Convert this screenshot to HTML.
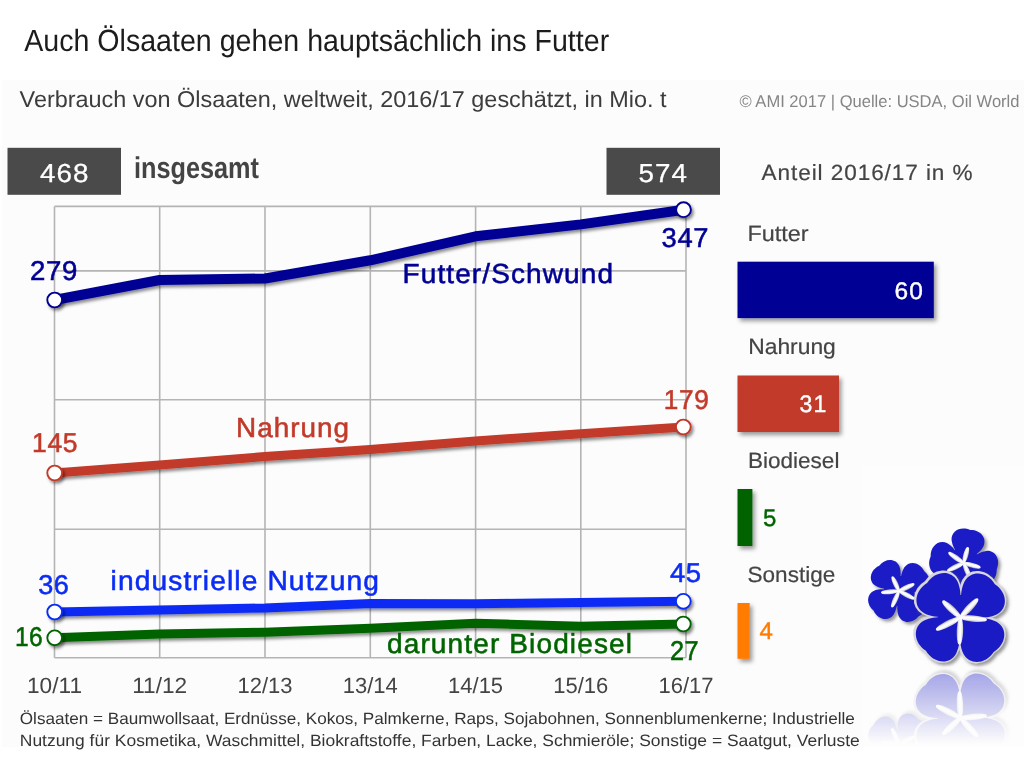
<!DOCTYPE html>
<html><head><meta charset="utf-8"><title>Auch Ölsaaten gehen hauptsächlich ins Futter</title>
<style>
html,body{margin:0;padding:0;background:#fff;}
body{width:1024px;height:778px;overflow:hidden;font-family:"Liberation Sans",sans-serif;}
svg{display:block;font-family:"Liberation Sans",sans-serif;}
text{text-rendering:geometricPrecision;}
</style></head><body>
<svg width="1024" height="778" viewBox="0 0 1024 778" style="opacity:0.999">
<defs>
  <filter id="sh" x="-5%" y="-50%" width="110%" height="200%"><feDropShadow dx="2" dy="2.5" stdDeviation="1.6" flood-color="#000" flood-opacity="0.45"/></filter>
  <filter id="shb" x="-10%" y="-20%" width="130%" height="150%"><feDropShadow dx="2.5" dy="3" stdDeviation="2" flood-color="#000" flood-opacity="0.4"/></filter>
  <filter id="shf" x="-20%" y="-20%" width="150%" height="150%"><feDropShadow dx="2.5" dy="2.5" stdDeviation="1.8" flood-color="#555" flood-opacity="0.6"/></filter>
  <linearGradient id="fade" x1="0" y1="0" x2="0" y2="1"><stop offset="0" stop-color="#fff" stop-opacity="0.42"/><stop offset="1" stop-color="#fff" stop-opacity="0"/></linearGradient>
  <mask id="rm" maskUnits="userSpaceOnUse" x="850" y="668" width="174" height="80"><rect x="850" y="668" width="174" height="76" fill="url(#fade)"/></mask>

  <linearGradient id="ray" x1="0" y1="0" x2="1" y2="0"><stop offset="0" stop-color="#c4c4cf"/><stop offset="0.35" stop-color="#ffffff"/><stop offset="0.7" stop-color="#f4f4f7"/><stop offset="1" stop-color="#a6a6b6"/></linearGradient>
  <path id="petal" d="M0,3 C-3,-7 -19.5,-15 -24.5,-30 C-28.5,-44 -15,-54.5 0,-51 C15,-54.5 28.5,-44 24.5,-30 C19.5,-15 3,-7 0,3Z"/>
  <path id="rayp" d="M0,2.5 C-3.3,-3 -3.5,-17 -1.7,-24.5 C-0.9,-27.3 0.9,-27.3 1.7,-24.5 C3.5,-17 3.3,-3 0,2.5Z"/>
  <g id="flowerBody">
    <use href="#petal" transform="rotate(-44)"/>
    <use href="#petal" transform="rotate(46)"/>
    <use href="#petal" transform="rotate(136)"/>
    <use href="#petal" transform="rotate(-134)"/>
    <circle cx="0" cy="0" r="24"/>
  </g>
  <g id="flowerStar" fill="url(#ray)">
    <use href="#rayp" transform="rotate(-47) scale(1.12,0.92)"/>
    <use href="#rayp" transform="rotate(43) scale(1.12,0.97)"/>
    <use href="#rayp" transform="rotate(95) scale(1.12,1)"/>
    <use href="#rayp" transform="rotate(182) scale(1.12,1.02)"/>
    <use href="#rayp" transform="rotate(-117) scale(1.12,1.03)"/>
  </g>
  <g id="flowerStarS" fill="url(#ray)">
    <use href="#rayp" transform="rotate(-47) scale(1.3,0.92)"/>
    <use href="#rayp" transform="rotate(43) scale(1.3,0.97)"/>
    <use href="#rayp" transform="rotate(95) scale(1.3,1)"/>
    <use href="#rayp" transform="rotate(182) scale(1.3,1.02)"/>
    <use href="#rayp" transform="rotate(-117) scale(1.3,1.03)"/>
  </g>
  <g id="flowerGroup">
    <g filter="url(#shf)">
      <g transform="translate(963.7,563) rotate(55) scale(0.66)"><use href="#flowerBody" fill="#1b1bc6"/></g>
    </g>
    <g transform="translate(963.7,563) rotate(62) scale(0.68)"><use href="#flowerStarS"/></g>
    <g filter="url(#shf)">
      <g transform="translate(899,591) rotate(6) scale(0.63)"><use href="#flowerBody" fill="#1b1bc6"/></g>
    </g>
    <g transform="translate(899,591) rotate(22) scale(0.66)"><use href="#flowerStarS"/></g>
    <g filter="url(#shf)">
      <g transform="translate(959.8,616.9) scale(0.94)"><use href="#flowerBody" fill="#d6d6dc" stroke="#d6d6dc" stroke-width="4.2" stroke-linejoin="round"/></g>
    </g>
    <g transform="translate(960.4,617.5) scale(0.94)"><use href="#flowerBody" fill="#1b1bc6"/></g>
    <g transform="translate(960.4,617.5)"><use href="#flowerStar"/></g>
  </g>
</defs>
<rect x="0" y="0" width="1024" height="778" fill="#fff"/>
<rect x="2" y="80" width="1022" height="667" fill="#fcfcfc"/>
<rect x="863" y="466" width="161" height="281" fill="#fdfdfd"/>

<!-- title -->
<text x="24.2" y="50.6" font-size="30.7" fill="#1c1c1c" textLength="585" lengthAdjust="spacingAndGlyphs">Auch Ölsaaten gehen hauptsächlich ins Futter</text>
<text x="19.6" y="106.6" font-size="23" fill="#3c3c3c" textLength="647" lengthAdjust="spacingAndGlyphs">Verbrauch von Ölsaaten, weltweit, 2016/17 geschätzt, in Mio. t</text>
<text x="739.5" y="106.7" font-size="17" fill="#858585" textLength="280" lengthAdjust="spacingAndGlyphs">© AMI 2017 | Quelle: USDA, Oil World</text>

<!-- grid -->
<g stroke="#b4b4b4" stroke-width="1.6" fill="none">
  <path d="M54.5 206.4V657.8M159.7 206.4V657.8M265 206.4V657.8M370.3 206.4V657.8M475.6 206.4V657.8M580.8 206.4V657.8M686 206.4V657.8"/>
  <path d="M54.5 206.4H686M54.5 270.9H686M54.5 399.8H686M54.5 529.2H686M54.5 657.8H686"/>
</g>

<!-- boxes -->
<rect x="7.5" y="147.8" width="113.5" height="47" fill="#4a4a4a"/>
<rect x="606.5" y="147.8" width="113.5" height="47" fill="#4a4a4a"/>
<text x="40" y="181.5" font-size="26" fill="#fff" stroke="#fff" stroke-width="0.3" textLength="49.5" lengthAdjust="spacingAndGlyphs" style="letter-spacing:1.0px">468</text>
<text x="638.5" y="181.5" font-size="26" fill="#fff" stroke="#fff" stroke-width="0.3" textLength="49.5" lengthAdjust="spacingAndGlyphs" style="letter-spacing:1.0px">574</text>
<text x="134" y="177.6" font-size="30" font-weight="bold" fill="#444" textLength="125" lengthAdjust="spacingAndGlyphs">insgesamt</text>

<!-- lines -->
<g fill="none" stroke-linejoin="round" stroke-linecap="butt" filter="url(#sh)">
  <polyline stroke="#000094" stroke-width="10" points="54.5,300 159.7,280 265,278.5 370.3,260.3 475.6,236.3 580.8,224.4 684,209.7"/>
  <polyline stroke="#c23a2a" stroke-width="9" points="54.5,473 159.7,465 265,456.5 370.3,449.4 475.6,441 580.8,433.7 684,427"/>
  <polyline stroke="#0b2cf5" stroke-width="9" points="54.5,612 159.7,610 265,608 370.3,603.4 475.6,603.7 580.8,602.5 684,601.3"/>
  <polyline stroke="#006400" stroke-width="9" points="54.5,637.8 159.7,634 265,632.2 370.3,628.2 475.6,623.2 580.8,626.3 684,624"/>
</g>
<g fill="#fff" stroke-width="1.9" filter="url(#sh)">
  <circle cx="54.7" cy="300" r="7.4" stroke="#000094"/><circle cx="683.5" cy="209.7" r="7.4" stroke="#000094"/>
  <circle cx="54.7" cy="473" r="7.4" stroke="#c23a2a"/><circle cx="683.3" cy="427" r="7.4" stroke="#c23a2a"/>
  <circle cx="54.7" cy="612" r="7.4" stroke="#0b2cf5"/><circle cx="683.3" cy="601.3" r="7.4" stroke="#0b2cf5"/>
  <circle cx="54.7" cy="637.8" r="7.4" stroke="#006400"/><circle cx="683.3" cy="624" r="7.4" stroke="#006400"/>
</g>

<!-- data labels -->
<g font-size="27.3" lengthAdjust="spacingAndGlyphs">
  <text x="30" y="280" fill="#000094" stroke="#000094" stroke-width="0.55" textLength="48.2" lengthAdjust="spacingAndGlyphs" style="letter-spacing:0.7px">279</text>
  <text x="661.5" y="246.5" fill="#000094" stroke="#000094" stroke-width="0.55" textLength="47.7" lengthAdjust="spacingAndGlyphs" style="letter-spacing:0.7px">347</text>
  <text x="402.5" y="282.8" font-size="27.5" fill="#000094" stroke="#000094" stroke-width="0.55" textLength="211.6" lengthAdjust="spacingAndGlyphs" style="letter-spacing:1.1px">Futter/Schwund</text>
  <text x="32" y="452" fill="#c23a2a" stroke="#c23a2a" stroke-width="0.55" textLength="46.2" lengthAdjust="spacingAndGlyphs" style="letter-spacing:0.7px">145</text>
  <text x="663.7" y="409" fill="#c23a2a" stroke="#c23a2a" stroke-width="0.55" textLength="45.7" lengthAdjust="spacingAndGlyphs" style="letter-spacing:0.7px">179</text>
  <text x="236" y="437.4" font-size="27.5" fill="#c23a2a" stroke="#c23a2a" stroke-width="0.55" textLength="114.0" lengthAdjust="spacingAndGlyphs" style="letter-spacing:1.0px">Nahrung</text>
  <text x="38.3" y="594.3" fill="#0b2cf5" stroke="#0b2cf5" stroke-width="0.55" textLength="30.9" lengthAdjust="spacingAndGlyphs" style="letter-spacing:0.4px">36</text>
  <text x="670" y="581.8" fill="#0b2cf5" stroke="#0b2cf5" stroke-width="0.55" textLength="31.4" lengthAdjust="spacingAndGlyphs" style="letter-spacing:0.4px">45</text>
  <text x="110.5" y="590" font-size="27.5" fill="#0b2cf5" stroke="#0b2cf5" stroke-width="0.55" textLength="269.6" lengthAdjust="spacingAndGlyphs" style="letter-spacing:1.1px">industrielle Nutzung</text>
  <text x="15" y="645.5" fill="#006400" stroke="#006400" stroke-width="0.55" textLength="28.0" lengthAdjust="spacingAndGlyphs" style="letter-spacing:0.4px">16</text>
  <text x="670" y="660" fill="#006400" stroke="#006400" stroke-width="0.55" textLength="28.9" lengthAdjust="spacingAndGlyphs" style="letter-spacing:0.4px">27</text>
  <text x="387" y="653.3" font-size="27.5" fill="#006400" stroke="#006400" stroke-width="0.55" textLength="246.1" lengthAdjust="spacingAndGlyphs" style="letter-spacing:1.1px">darunter Biodiesel</text>
</g>

<!-- x labels -->
<g font-size="22" fill="#444" text-anchor="middle">
  <text x="54.5" y="693" textLength="55" lengthAdjust="spacingAndGlyphs">10/11</text>
  <text x="159.7" y="693" textLength="55" lengthAdjust="spacingAndGlyphs">11/12</text>
  <text x="265" y="693" textLength="55" lengthAdjust="spacingAndGlyphs">12/13</text>
  <text x="370.3" y="693" textLength="55" lengthAdjust="spacingAndGlyphs">13/14</text>
  <text x="475.6" y="693" textLength="55" lengthAdjust="spacingAndGlyphs">14/15</text>
  <text x="580.8" y="693" textLength="55" lengthAdjust="spacingAndGlyphs">15/16</text>
  <text x="686" y="693" textLength="55" lengthAdjust="spacingAndGlyphs">16/17</text>
</g>

<!-- footnote -->
<g font-size="16.5" fill="#333">
  <text x="19.8" y="724" textLength="835" lengthAdjust="spacingAndGlyphs">Ölsaaten = Baumwollsaat, Erdnüsse, Kokos, Palmkerne, Raps, Sojabohnen, Sonnenblumenkerne; Industrielle</text>
  <text x="19.8" y="746.2" textLength="840" lengthAdjust="spacingAndGlyphs">Nutzung für Kosmetika, Waschmittel, Biokraftstoffe, Farben, Lacke, Schmieröle; Sonstige = Saatgut, Verluste</text>
</g>

<!-- right panel -->
<g font-size="22" fill="#444" stroke="#444" stroke-width="0.2">
  <text x="761.6" y="180" textLength="211.9" lengthAdjust="spacingAndGlyphs" style="letter-spacing:0.9px">Anteil 2016/17 in %</text>
  <text x="747.6" y="241" textLength="61" lengthAdjust="spacingAndGlyphs">Futter</text>
  <text x="748.2" y="354" textLength="87.6" lengthAdjust="spacingAndGlyphs">Nahrung</text>
  <text x="748" y="467.6" textLength="91.4" lengthAdjust="spacingAndGlyphs">Biodiesel</text>
  <text x="747.6" y="582.2" textLength="87.6" lengthAdjust="spacingAndGlyphs">Sonstige</text>
</g>
<g filter="url(#shb)">
  <rect x="737.5" y="261.7" width="196.3" height="56.4" fill="#000094"/>
  <rect x="737.5" y="375.5" width="101.5" height="56.5" fill="#c23a2a"/>
  <rect x="737.5" y="489" width="14.9" height="57" fill="#006400"/>
  <rect x="737.5" y="603" width="12.2" height="55.8" fill="#ff7b00"/>
</g>
<g font-size="24" stroke-width="0.4">
  <text x="894.6" y="298.8" fill="#fff" stroke="#fff" textLength="29.5" lengthAdjust="spacingAndGlyphs" style="letter-spacing:1.1px">60</text>
  <text x="799.6" y="412.3" fill="#fff" stroke="#fff" textLength="27.8" lengthAdjust="spacingAndGlyphs" style="letter-spacing:1.1px">31</text>
  <text x="763" y="525.5" fill="#006400" stroke="#006400">5</text>
  <text x="759.5" y="638.6" fill="#ff7b00" stroke="#ff7b00">4</text>
</g>

<!-- flowers placeholder -->
<use href="#flowerGroup"/>
<g mask="url(#rm)"><use href="#flowerGroup" transform="translate(0,1335.5) scale(1,-1)"/></g>
</svg>
</body></html>
